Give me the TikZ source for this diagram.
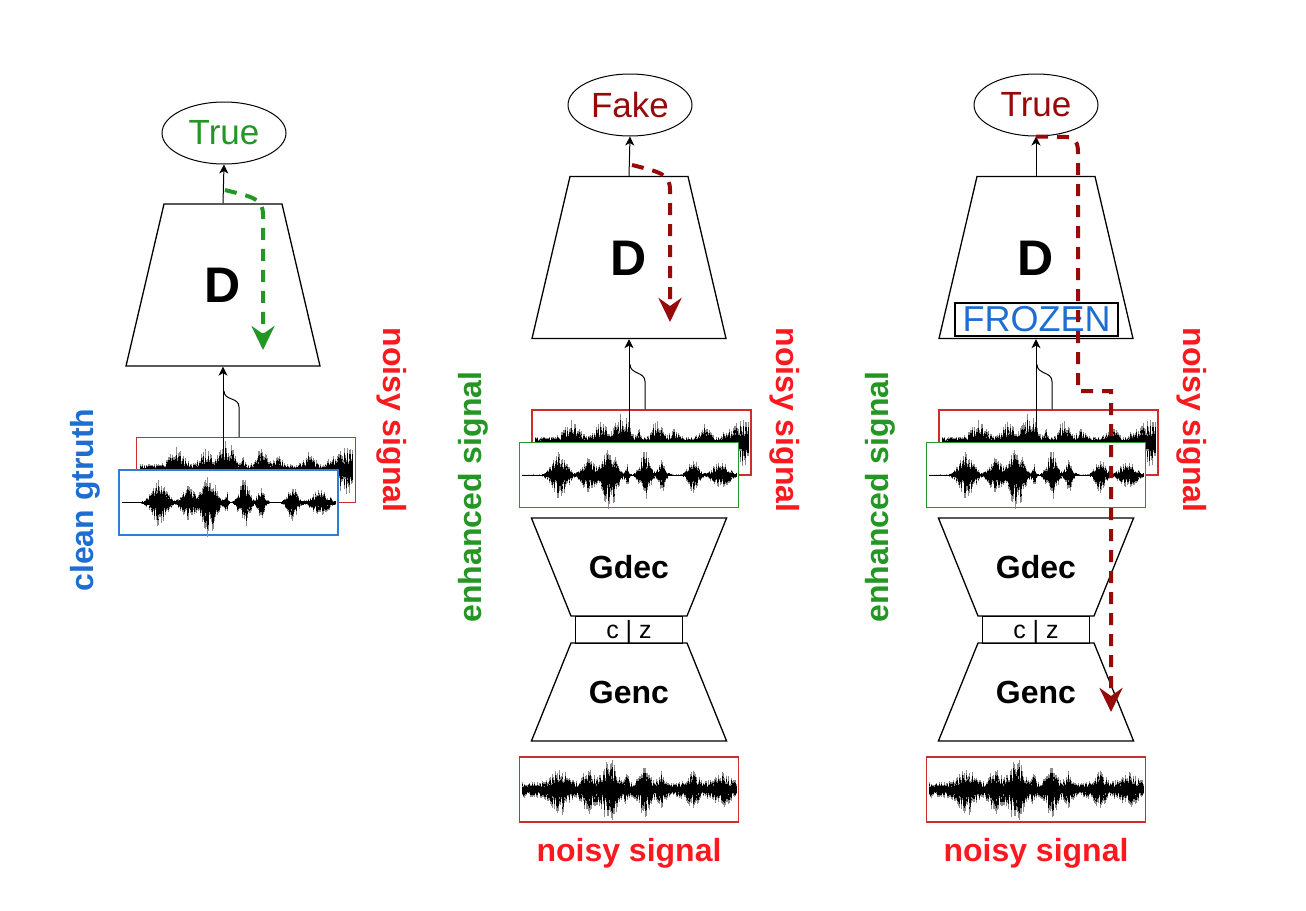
\documentclass[tikz,border=0pt]{standalone}
\usepackage{fontspec}
\setmainfont{Liberation Sans}
\usetikzlibrary{shapes.geometric,arrows.meta,positioning}
\definecolor{boxred}{RGB}{205,45,45}
\definecolor{txtred}{RGB}{250,25,30}
\definecolor{boxblue}{RGB}{50,125,210}
\definecolor{txtblue}{RGB}{30,110,210}
\definecolor{boxgreen}{RGB}{40,150,40}
\definecolor{txtgreen}{RGB}{35,150,35}
\definecolor{darkred}{RGB}{150,10,10}
\tikzset{
    declare function={
        bump(\vx,\vc,\vw)=exp(-((\vx-\vc)/\vw)*((\vx-\vc)/\vw));
        speech(\vx)=0.7*bump(\vx,0.175,0.045)+0.6*bump(\vx,0.31,0.035)
            +1.0*bump(\vx,0.41,0.04)+0.35*bump(\vx,0.49,0.01)
            +0.75*bump(\vx,0.575,0.03)+0.45*bump(\vx,0.655,0.022)
            +0.5*bump(\vx,0.8,0.03)+0.4*bump(\vx,0.93,0.05);
    },
    outcome/.style={ellipse,draw,line width=1pt,minimum width=124pt,minimum height=62pt,inner sep=0pt,font=\fontsize{35}{40}\selectfont},
    discr/.style={trapezium,draw,line width=1.3pt,trapezium left angle=76.8,trapezium right angle=76.8,inner sep=0pt,text width=118pt,align=center,text height=98.9pt,text depth=63.1pt,font=\fontsize{50}{56}\selectfont\bfseries},
    gstage/.style={trapezium,draw,line width=1.3pt,trapezium left angle=68,trapezium right angle=68,inner sep=0pt,text width=116pt,align=center,text height=60.5pt,text depth=37.5pt,font=\fontsize{32}{36}\selectfont\bfseries},
    latent/.style={rectangle,draw,line width=1.3pt,minimum width=107pt,inner sep=0pt,text height=22pt,text depth=5pt,font=\fontsize{25}{28}\selectfont},
    frozen/.style={rectangle,draw,line width=1.5pt,minimum width=163pt,minimum height=33pt,inner sep=0pt,text=txtblue,font=\fontsize{36}{40}\selectfont},
    sigbox/.style={rectangle,draw=#1,fill=white,line width=1.1pt,minimum width=219pt,minimum height=65pt,inner sep=0pt},
    siglabel/.style={text=#1,font=\fontsize{32}{36}\selectfont\bfseries},
    fwd/.style={draw,line width=1pt,-{Stealth[length=9pt,width=9pt,inset=2.5pt]}},
    link/.style={draw,line width=1pt},
    grad/.style={draw=#1,line width=4pt,dash pattern=on 12pt off 9pt,-{Stealth[length=24pt,width=23pt,inset=8pt]}},
    wave/.style={line width=0.9pt,black},
    halo/.style={line width=0.9pt,black!45},
}
% #1 left, #2 right, #3 centre, #4 speech level, #5 noise level, #6 tail level, #7 seed
\newcommand{\drawwave}[7]{%
    \pgfmathsetseed{#7}
    \draw[gray!40,line width=0.5pt] ({#1},{#3}) -- ({#2},{#3});
    \foreach \k in {0,...,300}{
        \pgfmathsetmacro{\uu}{\k/300}
        \pgfmathsetmacro{\xx}{(#1)+\uu*((#2)-(#1))}
        \pgfmathsetmacro{\lev}{(#5)+(#4)*speech(\uu)+(#6)*bump(\uu,1,0.05)}
        \pgfmathsetmacro{\hu}{\lev*(0.35+0.65*rnd)}
        \pgfmathsetmacro{\hd}{\lev*(0.35+0.75*rnd)}
        \draw[halo] (\xx,{(#3)-1.3*\hu}) -- (\xx,{(#3)+1.3*\hd});
        \draw[wave] (\xx,{(#3)-\hu}) -- (\xx,{(#3)+\hd});
    }
}

\begin{document}
\begin{tikzpicture}[x=1pt,y=-1pt]
    \useasboundingbox (0,0) rectangle (1306,910);

    % left: discriminator on clean pair
    \node [outcome,text=txtgreen] (true-l) at (224,133) {True};
    \node [discr]                 (d-l)    at (223,285) {D};
    \path [fwd] (d-l.top side) -- (true-l.south);

    \node [sigbox=boxred]  (noisy-l) at (246,470) {};
    \drawwave{140}{352}{470}{20}{4.5}{12}{3}
    \node [sigbox=boxblue] (clean-l) at (228.5,502.5) {};
    \drawwave{122}{335}{502.5}{25}{0.4}{0}{5}
    \path [fwd] (clean-l.north -| d-l.bottom side) -- (d-l.bottom side);
    \path [link] ([xshift=16pt]d-l.bottom side |- noisy-l.north) -- ++(0,-30)
        .. controls +(0,-10) and +(0,10) .. ++(-15,-16);

    \node [siglabel=txtblue,rotate=90] (lab-clean) at (85,500) {clean gtruth};
    \node [siglabel=txtred,rotate=-90] (lab-noisy-l) at (392,420) {noisy signal};

    \coordinate (gl-s) at (225,190);
    \coordinate (gl-e) at (263,350);
    \draw [grad=txtgreen] (gl-s) .. controls (252,197) and (263,198) .. (263,215) -- (gl-e);

    % middle and right: generator + discriminator
    \foreach \p/\cx in {m/629,r/1036}{
        \node [discr] (d-\p) at (\cx,257.5) {D};
        \node [sigbox=boxred]   (noisy-\p) at (\cx+12.5,442.5) {};
        \drawwave{\cx-94}{\cx+119}{442.5}{20}{4.5}{12}{3}
        \node [sigbox=boxgreen] (enh-\p)   at (\cx,475) {};
        \drawwave{\cx-107}{\cx+107}{475}{25}{0.4}{0}{5}
        \path [fwd] (enh-\p.north) -- (d-\p.bottom side);
        \path [link] ([xshift=16pt]d-\p.bottom side |- noisy-\p.north) -- ++(0,-28)
            .. controls +(0,-10) and +(0,10) .. ++(-15,-17);

        \node [gstage,shape border rotate=180] (gdec-\p) at (\cx,567) {Gdec};
        \node [latent] (cz-\p)   at (\cx,630) {c | z};
        \node [gstage] (genc-\p) at (\cx,692) {Genc};

        \node [sigbox=boxred] (in-\p) at (\cx,789.5) {};
        \drawwave{\cx-107}{\cx+107}{789.5}{19}{6}{0}{7}
        \node [siglabel=txtred] (lab-in-\p) at (\cx,853) {noisy signal};
        \node [siglabel=txtgreen,rotate=90] (lab-enh-\p)  at (\cx-156,497) {enhanced signal};
        \node [siglabel=txtred,rotate=-90]  (lab-noisy-\p) at (\cx+156,420) {noisy signal};
    }

    % middle: fake output
    \node [outcome,text=darkred] (fake-m) at (630,105) {Fake};
    \path [fwd] (d-m.top side) -- (fake-m.south);
    \coordinate (gm-s) at (632,165);
    \coordinate (gm-e) at (670,322);
    \draw [grad=darkred] (gm-s) .. controls (660,172) and (670,174) .. (670,190) -- (gm-e);

    % right: frozen discriminator
    \node [outcome,text=darkred] (true-r) at (1036,105) {True};
    \path [fwd] (d-r.top side) -- (true-r.south);
    \node [frozen] (frz) at (1036.5,319.5) {FROZEN};
    \coordinate (gr-e) at (1111,712);
    \draw [grad=darkred] (true-r.south) -- (1066,137) .. controls (1075,137) and (1078,143) .. (1078,152)
        -- (1078,391) -- (1111,391) -- (gr-e);
\end{tikzpicture}
\end{document}
